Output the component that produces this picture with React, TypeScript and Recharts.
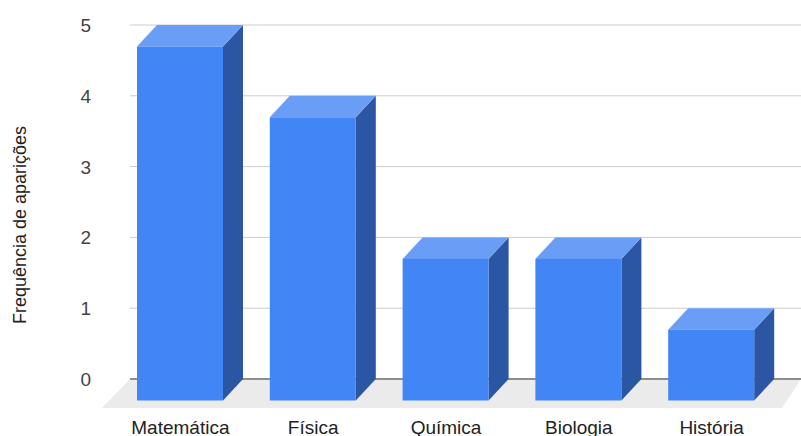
import { BarChart, Bar, XAxis, YAxis, CartesianGrid, ReferenceArea } from 'recharts'

const subjects = ['Matemática', 'Física', 'Química', 'Biologia', 'História']
const appearances = [5, 4, 2, 2, 1]
const yTicks = [0, 1, 2, 3, 4, 5]

const data = subjects.map((name, i) => ({ name, value: appearances[i] }))

// 3D depth offset of the bars
const DX = 20
const DY = 21.5

const FRONT = '#4285f4'
const TOP = '#6a9ef6'
const SIDE = '#2b56a3'
const FLOOR = '#ebebeb'

function Box3D(props: any) {
  const { x, y, width, height } = props
  if (width == null || height == null) return null
  const w = width
  const h = height
  return (
    <g>
      <polygon
        points={`${x + w},${y} ${x + w},${y + h} ${x + w - DX},${y + h + DY} ${x + w - DX},${y + DY}`}
        fill={SIDE}
      />
      <polygon
        points={`${x},${y} ${x + w},${y} ${x + w - DX},${y + DY} ${x - DX},${y + DY}`}
        fill={TOP}
      />
      <rect x={x - DX} y={y + DY} width={w} height={h} fill={FRONT} />
    </g>
  )
}

function Floor(props: any) {
  const { x, y, width, height } = props
  const top = y + height
  const left = x - 4
  const right = x + width + 3
  return (
    <g>
      <polygon
        points={`${left},${top} ${right},${top} ${right - 19},${top + 29} ${left - 28},${top + 29}`}
        fill={FLOOR}
      />
      <line x1={left} x2={right} y1={top} y2={top} stroke="#333" strokeWidth={1} />
    </g>
  )
}

function XTick(props: any) {
  const { x, y, payload } = props
  return (
    <text x={x - DX} y={y + 47} textAnchor="middle" fontSize={19} fill="#222"
      fontFamily="'Liberation Sans', Arial, sans-serif">
      {payload.value}
    </text>
  )
}

function YTick(props: any) {
  const { y, payload } = props
  return (
    <text x={91} y={y + 7} textAnchor="end" fontSize={19} fill="#444"
      fontFamily="'Liberation Sans', Arial, sans-serif">
      {payload.value}
    </text>
  )
}

export default function App() {
  return (
    <div style={{ position: 'absolute', left: 0, top: 0, background: '#fff' }}>
      <BarChart
        width={801}
        height={436}
        data={data}
        margin={{ top: 25, right: 0, bottom: 0, left: 0 }}
      >
        <CartesianGrid vertical={false} stroke="#cccccc" />
        <XAxis
          dataKey="name"
          height={57}
          axisLine={false}
          tickLine={false}
          padding={{ left: 4, right: 3 }}
          tick={<XTick />}
          interval={0}
        />
        <YAxis
          width={130}
          domain={[0, 5]}
          ticks={yTicks}
          axisLine={false}
          tickLine={false}
          tick={<YTick />}
          label={{
            content: () => (
              <text
                x={0}
                y={0}
                transform="translate(26 225) rotate(-90)"
                textAnchor="middle"
                fontSize={18}
                fill="#222"
                fontFamily="'Liberation Sans', Arial, sans-serif"
              >
                Frequência de aparições
              </text>
            ),
          }}
        />
        <ReferenceArea y1={0} y2={0.2} shape={<Floor />} ifOverflow="visible" />
        <Bar dataKey="value" barSize={86} shape={<Box3D />} isAnimationActive={false} />
      </BarChart>
    </div>
  )
}
